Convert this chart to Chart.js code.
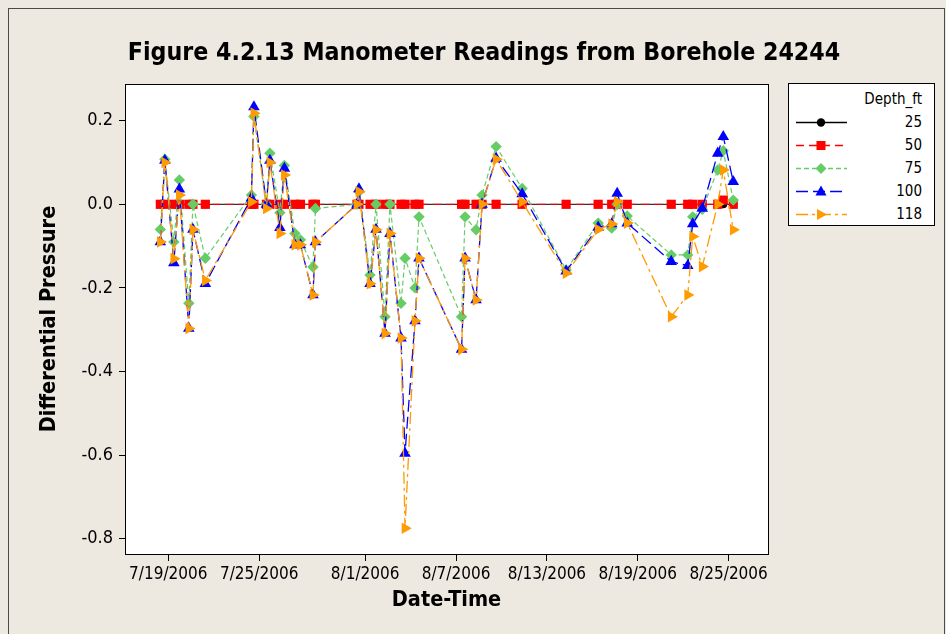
<!DOCTYPE html>
<html>
<head>
<meta charset="utf-8">
<script src="https://cdn.jsdelivr.net/npm/chart.js@4.4.1/dist/chart.umd.min.js"></script>
<style>
  html, body { margin:0; padding:0; width:946px; height:634px; overflow:hidden; background:#EDE9E0;
    font-family:"DejaVu Sans Condensed","DejaVu Sans",sans-serif; }
  #frame { position:absolute; left:8px; top:8px; width:937px; height:660px; border:1px solid #4a4a4a; box-sizing:border-box; }
  #c { position:absolute; left:0; top:0; }
  #title { position:absolute; left:0; width:968px; top:37px; text-align:center; font-weight:bold; font-size:24.7px; color:#000; white-space:nowrap; }
  #legend { position:absolute; left:788px; top:83px; width:147px; height:143px; background:#fff; border:1px solid #000; box-sizing:border-box; }
  #legend .hdr { position:absolute; right:12px; top:6px; font-size:15px; color:#000; }
  #legend .row { position:absolute; left:0; width:145px; height:20px; }
  #legend .row svg { position:absolute; left:6px; top:3px; }
  #legend .row span { position:absolute; right:12px; top:1px; font-size:15px; color:#000; }
</style>
</head>
<body>
<div id="frame"></div>
<canvas id="c" width="946" height="634"></canvas>
<div id="title">Figure 4.2.13 Manometer Readings from Borehole 24244</div>
<div id="legend"></div>
<script>
// ---- data ----
const times = [
  "7/18/2006 11:20","7/18/2006 18:30","7/19/2006 08:45","7/19/2006 17:30","7/20/2006 08:30","7/20/2006 15:00","7/21/2006 10:40",
  "7/24/2006 11:40","7/24/2006 15:40","7/25/2006 11:30","7/25/2006 17:00","7/26/2006 08:50","7/26/2006 16:00","7/27/2006 08:40","7/27/2006 17:25","7/28/2006 13:15","7/28/2006 17:10",
  "7/31/2006 11:00","7/31/2006 14:10","8/1/2006 07:40","8/1/2006 17:10","8/2/2006 07:25","8/2/2006 15:20","8/3/2006 08:50","8/3/2006 15:10","8/4/2006 07:00","8/4/2006 13:20",
  "8/7/2006 08:45","8/7/2006 14:20","8/8/2006 07:45","8/8/2006 17:15","8/9/2006 15:30","8/11/2006 08:45",
  "8/14/2006 06:30","8/16/2006 09:15","8/17/2006 06:45","8/17/2006 15:25","8/18/2006 07:20",
  "8/21/2006 05:05","8/22/2006 07:15","8/22/2006 15:10","8/23/2006 06:15","8/24/2006 06:50","8/24/2006 15:35","8/25/2006 07:25"
];
const depth25 = [0,0,0,0,0,0,0, 0,0,0,0,0,0,0,0,0,0, 0,0,0,0,0,0,0,0,0,0, 0,0,0,0,0,0, 0,0,0,0,0, 0,0,0,0,0,0,0];
const depth50 = [0,0,0,0,0,0,0, 0,0,0,0,0,0,0,0,0,0, 0,0,0,0,0,0,0,0,0,0, 0,0,0,0,0,0, 0,0,0,0,0, 0,0,0,0,0,0.01,0];
const depth75 = [-0.06,0.108,-0.09,0.058,-0.237,0.0,-0.129,
  0.022,0.21,0.0,0.122,-0.02,0.093,-0.07,-0.085,-0.15,-0.01,
  0.0,0.03,-0.169,0.0,-0.269,0.0,-0.237,-0.129,-0.2,-0.03,
  -0.269,-0.03,-0.061,0.022,0.138,0.038,
  -0.157,-0.045,-0.057,0.0,-0.028,
  -0.121,-0.121,-0.03,-0.012,0.082,0.128,0.01];
const depth100 = [-0.09,0.105,-0.14,0.036,-0.297,-0.06,-0.19,
  0.015,0.233,0.0,0.105,-0.056,0.086,-0.097,-0.097,-0.217,-0.09,
  0.0,0.037,-0.19,-0.06,-0.309,-0.07,-0.32,-0.596,-0.279,-0.129,
  -0.347,-0.129,-0.229,0.0,0.11,0.025,
  -0.16,-0.055,-0.047,0.026,-0.045,
  -0.137,-0.147,-0.047,-0.01,0.122,0.162,0.054];
const depth118 = [-0.09,0.10,-0.13,0.022,-0.297,-0.06,-0.182,
  0.006,0.218,-0.01,0.10,-0.07,0.07,-0.097,-0.097,-0.217,-0.09,
  0.0,0.03,-0.19,-0.061,-0.309,-0.07,-0.32,-0.775,-0.279,-0.129,
  -0.347,-0.129,-0.229,0.0,0.108,0.006,
  -0.165,-0.06,-0.047,0.006,-0.045,
  -0.269,-0.217,-0.077,-0.149,0.0,0.082,-0.061];
const seriesNames = ["25","50","75","100","118"];
const xTickLabels = ["7/19/2006","7/25/2006","8/1/2006","8/7/2006","8/13/2006","8/19/2006","8/25/2006"];
const yTickValues = [-0.8,-0.6,-0.4,-0.2,0.0,0.2];

// ---- helpers: date-time string -> day count from June 30 2006 ----
function toDay(s) {
  const [d, t] = s.split(' ');
  const [m, dd] = d.split('/').map(Number);
  let frac = 0;
  if (t) { const [h, mi] = t.split(':').map(Number); frac = (h + mi / 60) / 24; }
  return (m === 7 ? 0 : 31) + dd + frac;
}
function dayLabel(v) {
  const d = Math.round(v);
  return d <= 31 ? ("7/" + d + "/2006") : ("8/" + (d - 31) + "/2006");
}
const xs = times.map(toDay);
const xTicks = xTickLabels.map(toDay);

const FONT = '"DejaVu Sans Condensed","DejaVu Sans",sans-serif';
const styles = [
  { color:'#000000', dash:[], width:1, point:'circle', r:4, rot:0 },
  { color:'#FF0000', dash:[8,5], width:1, point:'rect', r:6.5, rot:0 },
  { color:'#66CC66', dash:[5,3], width:1.2, point:'rectRot', r:5.7, rot:0 },
  { color:'#0000FF', dash:[12,5], width:1.3, point:'triangle', r:6.7, rot:0 },
  { color:'#FF9A00', dash:[12,4,3,4], width:1.3, point:'triangle', r:6.7, rot:90 }
];
const series = [depth25, depth50, depth75, depth100, depth118];

const datasets = series.map((vals, i) => ({
  label: seriesNames[i],
  data: vals.map((v, j) => ({ x: xs[j], y: v })),
  borderColor: styles[i].color,
  backgroundColor: styles[i].color,
  borderDash: styles[i].dash,
  borderWidth: styles[i].width,
  pointStyle: styles[i].point,
  pointRadius: styles[i].r,
  pointRotation: styles[i].rot,
  pointBorderWidth: 0,
  pointBackgroundColor: styles[i].color,
  tension: 0,
  fill: false,
  order: 5 - i
}));

const plotFrame = {
  id: 'plotFrame',
  beforeDraw(c) {
    const a = c.chartArea, ctx = c.ctx;
    ctx.save(); ctx.fillStyle = '#fff'; ctx.fillRect(a.left, a.top, a.right - a.left, a.bottom - a.top); ctx.restore();
  },
  afterDraw(c) {
    const a = c.chartArea, ctx = c.ctx;
    ctx.save(); ctx.strokeStyle = '#000'; ctx.lineWidth = 1;
    ctx.strokeRect(Math.round(a.left) + 0.5, Math.round(a.top) + 0.5, Math.round(a.right - a.left), Math.round(a.bottom - a.top));
    ctx.restore();
  }
};

new Chart(document.getElementById('c'), {
  type: 'line',
  data: { datasets },
  plugins: [plotFrame],
  options: {
    responsive: false, animation: false, devicePixelRatio: 1,
    layout: { padding: { left: 0, right: 178, top: 84, bottom: 0 } },
    plugins: { legend: { display: false }, tooltip: { enabled: false }, title: { display: false } },
    scales: {
      x: {
        type: 'linear', min: 16.139, max: 58.603,
        afterBuildTicks: s => { s.ticks = xTicks.map(v => ({ value: v })); },
        afterFit: s => { s.height = 80; },
        ticks: { callback: v => dayLabel(v), font: { size: 17, family: FONT }, color: '#000', padding: 3, maxRotation: 0, autoSkip: false },
        grid: { drawOnChartArea: false, drawTicks: true, tickLength: 7, color: '#000' },
        border: { display: true, color: '#000', width: 1 },
        title: { display: true, text: 'Date-Time', color: '#000', font: { size: 21.5, weight: 'bold', family: FONT }, padding: { top: 0, bottom: 21 } }
      },
      y: {
        type: 'linear', min: -0.8366, max: 0.2878,
        afterBuildTicks: s => { s.ticks = yTickValues.map(v => ({ value: v })); },
        afterFit: s => { s.width = 125; },
        ticks: { callback: v => (Math.abs(v) < 1e-9 ? '0.0' : v.toFixed(1)), font: { size: 18, family: FONT }, color: '#000', padding: 6 },
        grid: { drawOnChartArea: false, drawTicks: true, tickLength: 6, color: '#000' },
        border: { display: true, color: '#000', width: 1 },
        title: { display: true, text: 'Differential Pressure', color: '#000', font: { size: 21.5, weight: 'bold', family: FONT }, padding: { top: 37, bottom: 0 } }
      }
    }
  }
});

// ---- legend (HTML + SVG samples) ----
(function buildLegend() {
  const lg = document.getElementById('legend');
  let html = '<div class="hdr">Depth_ft</div>';
  const rowTops = [28, 51, 74, 97, 120];
  seriesNames.forEach((n, i) => {
    const s = styles[i];
    const cx = 26, cy = 7.5;
    let mk = '';
    if (s.point === 'circle') mk = `<circle cx="${cx}" cy="${cy}" r="4.2" fill="${s.color}"/>`;
    else if (s.point === 'rect') mk = `<rect x="${cx-4.5}" y="${cy-4.5}" width="9" height="9" fill="${s.color}"/>`;
    else if (s.point === 'rectRot') mk = `<polygon points="${cx},${cy-5.5} ${cx+5.5},${cy} ${cx},${cy+5.5} ${cx-5.5},${cy}" fill="${s.color}"/>`;
    else if (s.rot === 90) mk = `<polygon points="${cx+6},${cy} ${cx-4},${cy-5.5} ${cx-4},${cy+5.5}" fill="${s.color}"/>`;
    else mk = `<polygon points="${cx},${cy-6} ${cx+5.5},${cy+4} ${cx-5.5},${cy+4}" fill="${s.color}"/>`;
    const dash = s.dash.length ? `stroke-dasharray="${s.dash.join(' ')}"` : '';
    html += `<div class="row" style="top:${rowTops[i]}px"><svg width="54" height="15"><line x1="1" y1="7.5" x2="52" y2="7.5" style="stroke:${s.color}" stroke-width="1.4" ${dash}/>${mk}</svg><span>${n}</span></div>`;
  });
  lg.innerHTML = html;
})();
</script>
</body>
</html>
